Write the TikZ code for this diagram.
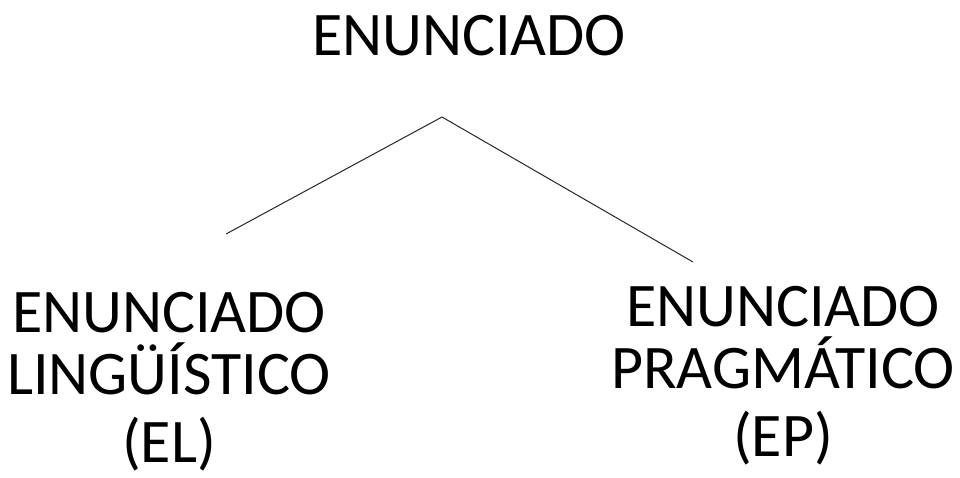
\documentclass[tikz,border=0pt]{standalone}
\usepackage{fontspec}
\setmainfont{Carlito}
\usepackage{tikz}

\begin{document}
\begin{tikzpicture}
		[x=1pt,y=-1pt,every node/.style={font=\fontsize{62}{62}\selectfont,align=center,inner sep=0pt,anchor=base},edge/.style={draw=black!85,line width=1pt}]
		\useasboundingbox (0,0) rectangle (960,477);
		\node (enun) at (469,55)  {ENUNCIADO};
		\node (el) at (169,462)  {ENUNCIADO\\LINGÜÍSTICO\\[6pt](EL)};
		\node (ep) at (783,456)  {ENUNCIADO\\PRAGMÁTICO\\[6pt](EP)};
		\coordinate (top) at (442,117);
		\coordinate (left) at (226,234);
		\coordinate (right) at (693,262);
		
		\foreach \from/\to in {top/left,top/right}
		\draw[edge] (\from) -- (\to);
		\end{tikzpicture}
\end{document}
